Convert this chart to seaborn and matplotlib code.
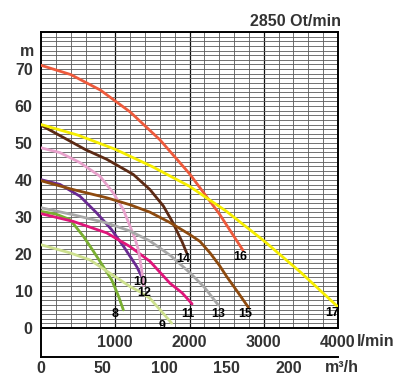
import matplotlib
matplotlib.use('Agg')
import matplotlib.pyplot as plt
import seaborn as sns
import numpy as np

# pump curves, flow in l/min, head in m
q8 = [0, 200, 391, 570, 704, 817, 952, 1040, 1109]
h8 = [31.5, 30.8, 29.3, 24.8, 20.8, 17.3, 13.0, 8.8, 4.9]
q9 = [0, 391, 660, 929, 1200, 1340, 1468, 1600, 1760]
h9 = [22.5, 20.3, 18.4, 14.8, 11.2, 9.7, 8.0, 5.0, 1.3]
q10 = [0, 256, 525, 750, 950, 1120, 1289, 1356]
h10 = [40.1, 38.8, 35.6, 31.1, 26.6, 21.8, 16.6, 13.9]
q11 = [0, 435, 885, 1199, 1468, 1737, 1900, 2035]
h11 = [30.9, 28.8, 25.7, 22.0, 18.0, 12.1, 9.5, 6.5]
q12 = [0, 256, 525, 795, 974, 1109, 1199, 1260, 1311, 1356, 1380]
h12 = [48.7, 47.4, 44.7, 41.0, 36.5, 32.0, 27.5, 24.5, 21.2, 15.7, 11.5]
q13 = [0, 435, 885, 1200, 1468, 1750, 2007, 2200, 2388]
h13 = [32.5, 30.6, 28.4, 26.2, 23.5, 19.5, 14.9, 11.0, 6.2]
q14 = [0, 346, 600, 885, 1243, 1468, 1647, 1770, 1900, 1962]
h14 = [54.8, 51.0, 48.2, 45.6, 41.5, 37.4, 33.0, 28.7, 23.3, 20.3]
q15 = [0, 435, 885, 1200, 1468, 1737, 2000, 2141, 2276, 2400, 2501, 2650, 2792]
h15 = [39.8, 37.4, 35.2, 33.3, 31.3, 28.5, 25.3, 23.4, 20.3, 17.0, 13.9, 9.7, 5.6]
q16 = [0, 400, 800, 1200, 1600, 2000, 2400, 2720]
h16 = [71.0, 68.5, 64.3, 58.4, 50.9, 41.7, 30.9, 21.0]
q17 = [0, 500, 1000, 1500, 2000, 2500, 3000, 3500, 4000]
h17 = [55.0, 52.1, 48.3, 43.6, 38.3, 31.5, 23.6, 15.0, 5.7]

curve_names = ['8', '9', '10', '11', '12', '13', '14', '15', '16', '17']
curve_q = [q8, q9, q10, q11, q12, q13, q14, q15, q16, q17]
curve_h = [h8, h9, h10, h11, h12, h13, h14, h15, h16, h17]
colors = ['#7aaf32', '#cde08e', '#6a2a92', '#e0157a', '#e8a2cc',
          '#a8a8a8', '#5c2a14', '#8e4a0e', '#ee5a3c', '#f6ee00']

# where the curve numbers sit
label_q = [997, 1634, 1333, 1984, 1392, 2388, 1917, 2747, 2680, 3915]
label_h = [3.8, 0.5, 12.4, 3.8, 9.4, 3.8, 18.6, 3.8, 19.3, 4.0]

flow_ticks = [1000, 2000, 3000, 4000]
m3h_ticks = [0, 50, 100, 150, 200]
head_ticks = [0, 10, 20, 30, 40, 50, 60, 70]

sns.set_style('white')
plt.rcParams['font.family'] = ['Liberation Sans', 'DejaVu Sans']
txt = dict(fontsize=11.5, fontweight='bold', color='#333333')

W, H = 402, 376
fig = plt.figure(figsize=(W / 100, H / 100), dpi=100)
ax = fig.add_axes([41 / W, 1 - 328 / H, 297 / W, 296 / H])

for q, h, c in zip(curve_q, curve_h, colors):
    sns.lineplot(x=q, y=h, ax=ax, color=c, lw=2.0, estimator=None,
                 sort=False, zorder=3)
for name, x, y in zip(curve_names, label_q, label_h):
    ax.text(x, y, name, ha='center', va='center', fontsize=9,
            fontweight='bold', color='black', zorder=5)

ax.set_xlim(0, 4000)
ax.set_ylim(0, 80)
ax.set_xticks(np.arange(0, 4001, 200), minor=True)
ax.set_yticks(np.arange(0, 80.01, 1.25), minor=True)
ax.set_xticks(flow_ticks)
ax.set_xticklabels([str(v) for v in flow_ticks], **txt)
ax.set_yticks(head_ticks)
ax.set_yticklabels([str(v) for v in head_ticks], **txt)
ax.tick_params(which='both', length=0)
ax.tick_params(axis='x', pad=5)
ax.tick_params(axis='y', pad=6)
ax.set_axisbelow(True)
ax.grid(which='minor', color='#5a5a5a', lw=0.6)
ax.grid(which='major', axis='y', color='#5a5a5a', lw=0.6)
ax.grid(which='major', axis='x', color='#111111', lw=0.9)
for s in ax.spines.values():
    s.set_color('black')
    s.set_linewidth(1.4)

# second scale in m3/h below the chart
ax2 = fig.add_axes([41 / W, 1 - 357 / H, 297 / W, 29 / H])
ax2.set_xlim(0, 240)
ax2.set_ylim(0, 1)
ax2.set_yticks([])
ax2.set_xticks(m3h_ticks)
ax2.set_xticklabels([str(v) for v in m3h_ticks], **txt)
ax2.tick_params(axis='x', length=2.5, width=1, pad=0.5, color='black')
ax2.spines['top'].set_visible(False)
ax2.spines['right'].set_visible(False)
for s in ['left', 'bottom']:
    ax2.spines[s].set_color('black')
    ax2.spines[s].set_linewidth(1.4)
ax2.patch.set_alpha(0)

fig.text(357 / W, 1 - 342 / H, 'l/min', ha='left', va='center', **txt)
fig.text(325 / W, 1 - 367 / H, 'm³/h', ha='left', va='center', **txt)
fig.text(27.5 / W, 1 - 52 / H, 'm', ha='center', va='center', **txt)
fig.text(295 / W, 1 - 21.5 / H, '2850 Ot/min', ha='center', va='center', **txt)

fig.savefig('out.png', dpi=100)
